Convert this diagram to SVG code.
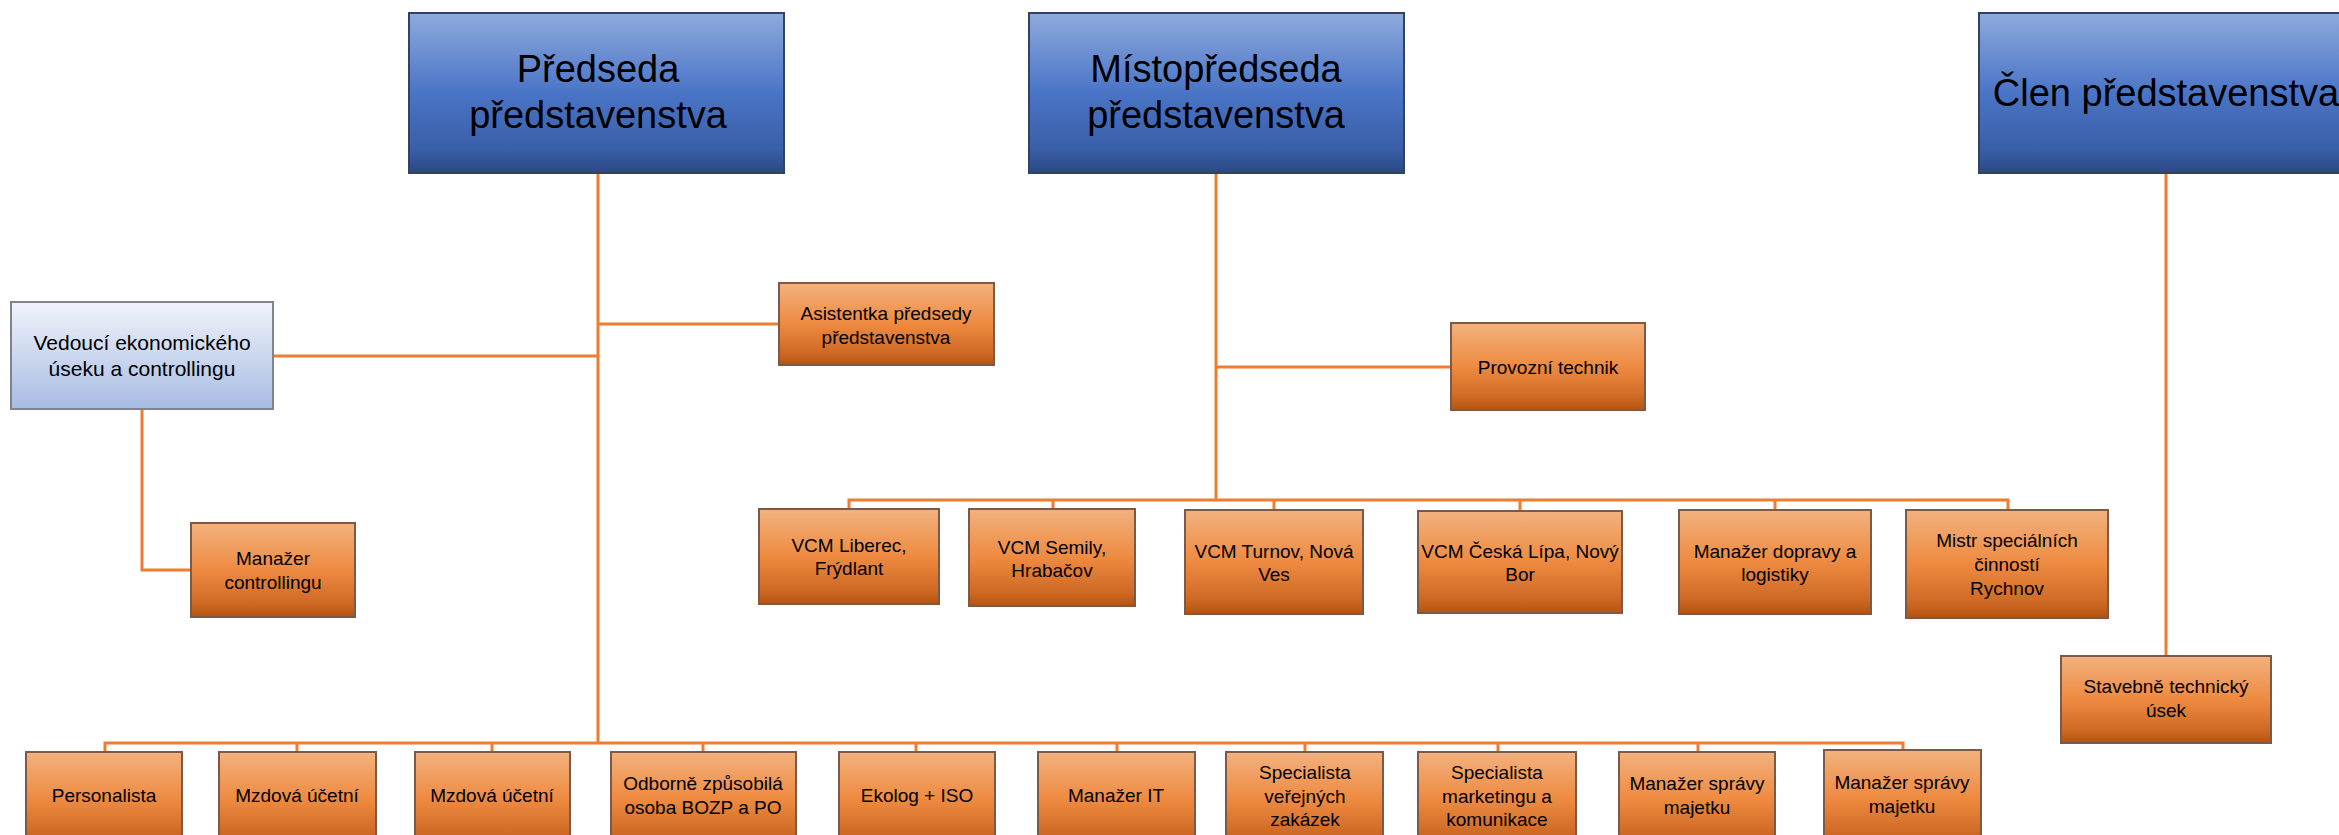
<svg xmlns="http://www.w3.org/2000/svg" width="2339" height="835" viewBox="0 0 2339 835">
<defs>
<linearGradient id="gBlue" x1="0" y1="0" x2="0" y2="1">
<stop offset="0" stop-color="#8eaadd"/>
<stop offset="0.5" stop-color="#4a74c6"/>
<stop offset="0.85" stop-color="#3a5fa8"/>
<stop offset="1" stop-color="#2a4883"/>
</linearGradient>
<linearGradient id="gLight" x1="0" y1="0" x2="0" y2="1">
<stop offset="0" stop-color="#f0f3fb"/>
<stop offset="1" stop-color="#a7bce3"/>
</linearGradient>
<linearGradient id="gOrange" x1="0" y1="0" x2="0" y2="1">
<stop offset="0" stop-color="#f2b27f"/>
<stop offset="0.5" stop-color="#ee8a40"/>
<stop offset="0.85" stop-color="#cf6a25"/>
<stop offset="1" stop-color="#b4530f"/>
</linearGradient>
</defs>
<style>
.blue{fill:url(#gBlue);stroke:#33425f;stroke-width:2}
.light{fill:url(#gLight);stroke:#7f848c;stroke-width:2}
.org{fill:url(#gOrange);stroke:#7d5a48;stroke-width:2}
text{font-family:"Liberation Sans",Arial,sans-serif;fill:#000;text-anchor:middle}
.big{font-size:38px}
.mid{font-size:21px}
.sm{font-size:19px}
.conn{fill:none;stroke:#ed7d31;stroke-width:3}
</style>
<rect width="2339" height="835" fill="#ffffff"/>
<g id="connectors" class="conn">
<path d="M598,173V743"/>
<path d="M598,324H779"/>
<path d="M273,356H598"/>
<path d="M142,409V570H191"/>
<path d="M105,752V743H1903V750"/>
<path d="M297,743V752M492,743V752M703,743V752M916,743V752M1117,743V752M1305,743V752M1498,743V752M1698,743V752"/>
<path d="M1216,173V500"/>
<path d="M1216,367H1451"/>
<path d="M849,509V500H2008V510"/>
<path d="M1053,500V509M1274,500V510M1520,500V511M1775,500V510"/>
<path d="M2166,173V656"/>
</g>
<g id="n-predseda">
<rect class="blue" x="409" y="13" width="375" height="160"/>
<text class="big" x="598" y="82">Předseda</text>
<text class="big" x="598" y="128">představenstva</text>
</g>
<g id="n-mistopredseda">
<rect class="blue" x="1029" y="13" width="375" height="160"/>
<text class="big" x="1216" y="82">Místopředseda</text>
<text class="big" x="1216" y="128">představenstva</text>
</g>
<g id="n-clen">
<rect class="blue" x="1979" y="13" width="375" height="160"/>
<text class="big" x="2166" y="106">Člen představenstva</text>
</g>
<g id="n-vedouci">
<rect class="light" x="11" y="302" width="262" height="107"/>
<text class="mid" x="142" y="350">Vedoucí ekonomického</text>
<text class="mid" x="142" y="376">úseku a controllingu</text>
</g>
<g id="n-asistentka">
<rect class="org" x="779" y="283" width="215" height="82"/>
<text class="sm" x="886" y="320">Asistentka předsedy</text>
<text class="sm" x="886" y="344">představenstva</text>
</g>
<g id="n-controlling">
<rect class="org" x="191" y="523" width="164" height="94"/>
<text class="sm" x="273" y="565">Manažer</text>
<text class="sm" x="273" y="589">controllingu</text>
</g>
<g id="n-provozni">
<rect class="org" x="1451" y="323" width="194" height="87"/>
<text class="sm" x="1548" y="374">Provozní technik</text>
</g>
<g id="n-liberec">
<rect class="org" x="759" y="509" width="180" height="95"/>
<text class="sm" x="849" y="552">VCM Liberec,</text>
<text class="sm" x="849" y="575">Frýdlant</text>
</g>
<g id="n-semily">
<rect class="org" x="969" y="509" width="166" height="97"/>
<text class="sm" x="1052" y="554">VCM Semily,</text>
<text class="sm" x="1052" y="577">Hrabačov</text>
</g>
<g id="n-turnov">
<rect class="org" x="1185" y="510" width="178" height="104"/>
<text class="sm" x="1274" y="558">VCM Turnov, Nová</text>
<text class="sm" x="1274" y="581">Ves</text>
</g>
<g id="n-ceskalipa">
<rect class="org" x="1418" y="511" width="204" height="102"/>
<text class="sm" x="1520" y="558">VCM Česká Lípa, Nový</text>
<text class="sm" x="1520" y="581">Bor</text>
</g>
<g id="n-doprava">
<rect class="org" x="1679" y="510" width="192" height="104"/>
<text class="sm" x="1775" y="558">Manažer dopravy a</text>
<text class="sm" x="1775" y="581">logistiky</text>
</g>
<g id="n-mistr">
<rect class="org" x="1906" y="510" width="202" height="108"/>
<text class="sm" x="2007" y="547">Mistr speciálních</text>
<text class="sm" x="2007" y="571">činností</text>
<text class="sm" x="2007" y="595">Rychnov</text>
</g>
<g id="n-stavebne">
<rect class="org" x="2061" y="656" width="210" height="87"/>
<text class="sm" x="2166" y="693">Stavebně technický</text>
<text class="sm" x="2166" y="717">úsek</text>
</g>
<g id="n-personalista">
<rect class="org" x="26" y="752" width="156" height="95"/>
<text class="sm" x="104" y="802">Personalista</text>
</g>
<g id="n-mzdova1">
<rect class="org" x="219" y="752" width="157" height="95"/>
<text class="sm" x="297" y="802">Mzdová účetní</text>
</g>
<g id="n-mzdova2">
<rect class="org" x="415" y="752" width="155" height="95"/>
<text class="sm" x="492" y="802">Mzdová účetní</text>
</g>
<g id="n-bozp">
<rect class="org" x="611" y="752" width="185" height="95"/>
<text class="sm" x="703" y="790">Odborně způsobilá</text>
<text class="sm" x="703" y="814">osoba BOZP a PO</text>
</g>
<g id="n-ekolog">
<rect class="org" x="839" y="752" width="156" height="95"/>
<text class="sm" x="917" y="802">Ekolog + ISO</text>
</g>
<g id="n-it">
<rect class="org" x="1038" y="752" width="157" height="95"/>
<text class="sm" x="1116" y="802">Manažer IT</text>
</g>
<g id="n-verejne">
<rect class="org" x="1226" y="752" width="157" height="95"/>
<text class="sm" x="1305" y="779">Specialista</text>
<text class="sm" x="1305" y="803">veřejných</text>
<text class="sm" x="1305" y="826">zakázek</text>
</g>
<g id="n-marketing">
<rect class="org" x="1418" y="752" width="158" height="95"/>
<text class="sm" x="1497" y="779">Specialista</text>
<text class="sm" x="1497" y="803">marketingu a</text>
<text class="sm" x="1497" y="826">komunikace</text>
</g>
<g id="n-majetek1">
<rect class="org" x="1619" y="752" width="156" height="95"/>
<text class="sm" x="1697" y="790">Manažer správy</text>
<text class="sm" x="1697" y="814">majetku</text>
</g>
<g id="n-majetek2">
<rect class="org" x="1824" y="750" width="157" height="97"/>
<text class="sm" x="1902" y="789">Manažer správy</text>
<text class="sm" x="1902" y="813">majetku</text>
</g>
</svg>
